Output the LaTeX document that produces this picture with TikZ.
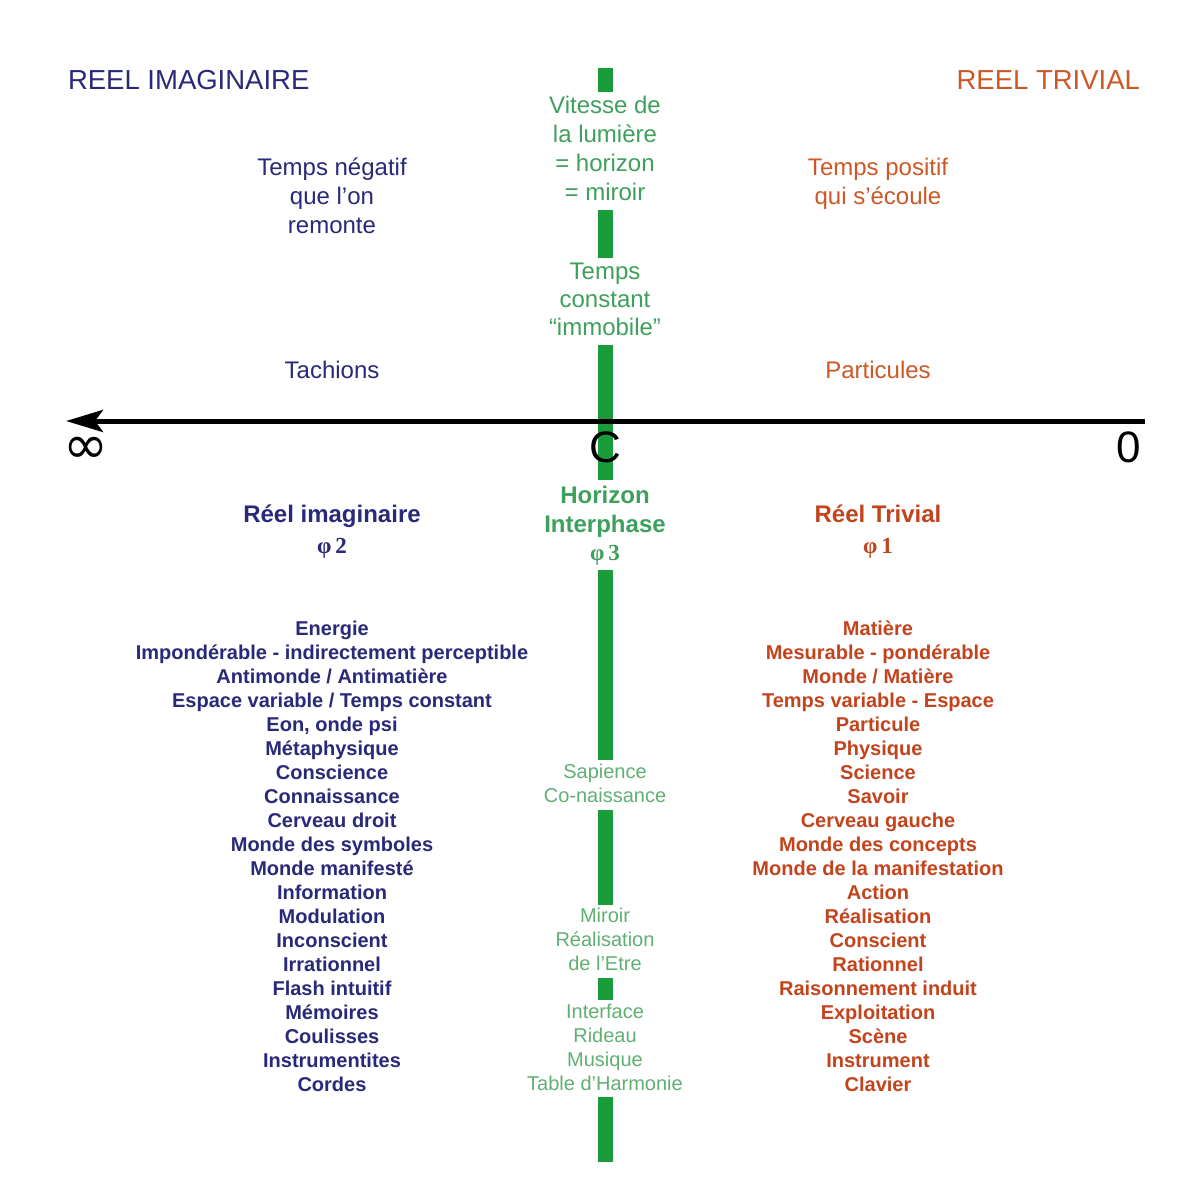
\documentclass[tikz,border=0pt]{standalone}
\usepackage{fontspec}
\setmainfont{Liberation Sans}
\newfontfamily\phifont{Liberation Serif}
\newfontfamily\symfont{DejaVu Sans}
\usetikzlibrary{arrows.meta}
\definecolor{navy}{RGB}{42,40,120}
\definecolor{rust}{RGB}{205,88,38}
\definecolor{rustb}{RGB}{195,68,28}
\definecolor{grtext}{RGB}{62,160,92}
\definecolor{grbar}{RGB}{26,156,58}
\definecolor{grlight}{RGB}{96,176,116}
\begin{document}
\begin{tikzpicture}[x=1pt,y=-1pt,
  every node/.style={inner sep=0pt,outer sep=0pt,anchor=base},
  title/.style={font=\fontsize{27.5}{33}\selectfont},
  mid/.style={font=\fontsize{24}{29}\selectfont},
  hdr/.style={font=\bfseries\fontsize{24}{29}\selectfont},
  phi/.style={font=\phifont\bfseries\fontsize{23}{27}\selectfont},
  item/.style={font=\bfseries\fontsize{20}{24}\selectfont},
  small/.style={font=\fontsize{20}{24}\selectfont,text=grlight},
  big/.style={font=\fontsize{44}{50}\selectfont},
  bar/.style={draw=grbar,line width=15pt},
  axis/.style={line width=5pt,-{Stealth[length=37pt,width=22pt,inset=8pt]}},
]
\fill[white] (0,0) rectangle (1186,1196);
\useasboundingbox (0,0) rectangle (1186,1196);

% green vertical bar (broken by the texts)
\draw[bar] (605,68) -- (605,92);
\draw[bar] (605,210) -- (605,258);
\draw[bar] (605,345) -- (605,480);
\draw[bar] (605,570) -- (605,760);
\draw[bar] (605,810) -- (605,905);
\draw[bar] (605,978) -- (605,1000);
\draw[bar] (605,1097) -- (605,1162);

% axis
\coordinate (axright) at (1145,421);
\coordinate (axleft) at (66,421);
\draw[axis] (axright) -- (axleft);

\node[big] (cval) at (605,462) {C};
\node[big] (zero) at (1129,462) {0};
\node[anchor=center,font=\symfont\fontsize{54}{60}\selectfont] (infty) at (86,450) {∞};

% titles
\node[title,text=navy,anchor=base west] (tl) at (68,89.5) {REEL IMAGINAIRE};
\node[title,text=rust,anchor=base east] (tr) at (1140,89.5) {REEL TRIVIAL};

% upper left / right
\node[mid,text=navy] (tn1) at (332,175.5) {Temps négatif};
\node[mid,text=navy] (tn2) at (332,204.5) {que l'on};
\node[mid,text=navy] (tn3) at (332,233.5) {remonte};
\node[mid,text=rust] (tp1) at (878,175.5) {Temps positif};
\node[mid,text=rust] (tp2) at (878,204.5) {qui s'écoule};
\node[mid,text=navy] (tach) at (332,378.5) {Tachions};
\node[mid,text=rust] (part) at (878,378.5) {Particules};

% central green texts
\node[mid,text=grtext] (v1) at (605,113.5) {Vitesse de};
\node[mid,text=grtext] (v2) at (605,142.5) {la lumière};
\node[mid,text=grtext] (v3) at (605,171.5) {= horizon};
\node[mid,text=grtext] (v4) at (605,200.5) {= miroir};
\node[mid,text=grtext] (c1) at (605,279.5) {Temps};
\node[mid,text=grtext] (c2) at (605,307.5) {constant};
\node[mid,text=grtext] (c3) at (605,335.5) {“immobile”};
\node[hdr,text=grtext] (h1) at (605,503.5) {Horizon};
\node[hdr,text=grtext] (h2) at (605,532.5) {Interphase};
\node[phi,text=grtext] (h3) at (605,560) {φ\,3};

% section heads
\node[hdr,text=navy] (ri) at (332,522.5) {Réel imaginaire};
\node[phi,text=navy] (ri2) at (332,553) {φ\,2};
\node[hdr,text=rustb] (rt) at (878,522.5) {Réel Trivial};
\node[phi,text=rustb] (rt2) at (878,553) {φ\,1};

% lists
\foreach \t [count=\i] in {Energie,Impondérable - indirectement perceptible,Antimonde / Antimatière,Espace variable / Temps constant,{Eon, onde psi},Métaphysique,Conscience,Connaissance,Cerveau droit,Monde des symboles,Monde manifesté,Information,Modulation,Inconscient,Irrationnel,Flash intuitif,Mémoires,Coulisses,Instrumentites,Cordes}
  \node[item,text=navy] (left\i) at (332,{635+24*(\i-1)}) {\t};
\foreach \t [count=\i] in {Matière,Mesurable - pondérable,Monde / Matière,Temps variable - Espace,Particule,Physique,Science,Savoir,Cerveau gauche,Monde des concepts,Monde de la manifestation,Action,Réalisation,Conscient,Rationnel,Raisonnement induit,Exploitation,Scène,Instrument,Clavier}
  \node[item,text=rustb] (right\i) at (878,{635+24*(\i-1)}) {\t};

% small central green texts
\node[small] (s1) at (605,778) {Sapience};
\node[small] (s2) at (605,802) {Co-naissance};
\node[small] (m1) at (605,922) {Miroir};
\node[small] (m2) at (605,946) {Réalisation};
\node[small] (m3) at (605,970) {de l'Etre};
\node[small] (i1) at (605,1018) {Interface};
\node[small] (i2) at (605,1042) {Rideau};
\node[small] (i3) at (605,1066) {Musique};
\node[small] (i4) at (605,1090) {Table d'Harmonie};
\end{tikzpicture}
\end{document}
